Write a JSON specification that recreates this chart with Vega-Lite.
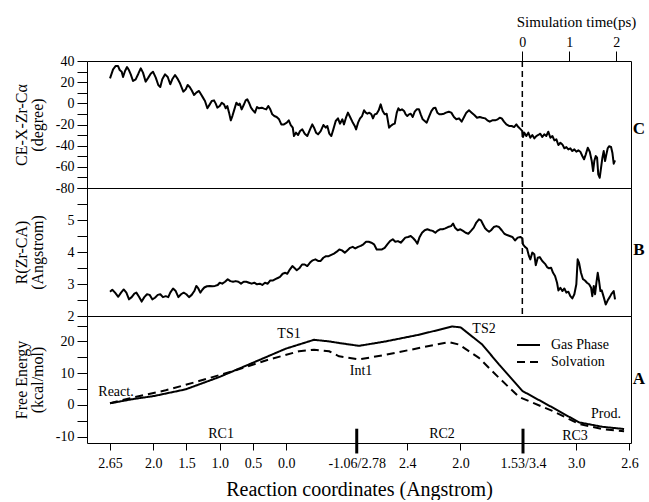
{
"$schema": "https://vega.github.io/schema/vega-lite/v6.json",
"padding": {"left": 12, "top": 13, "right": 0, "bottom": 0},
"background": "white",
"bounds": "flush",
"config": {
  "font": "Liberation Serif",
  "view": {"stroke": "black", "strokeWidth": 1},
  "style": {"guide-label": {"font": "Liberation Serif"}, "guide-title": {"font": "Liberation Serif"}},
  "axis": {"domain": false, "grid": false, "tickColor": "black", "labelColor": "black", "titleColor": "black", "labelFont": "Liberation Serif", "titleFont": "Liberation Serif", "labelFontSize": 14, "titleFontSize": 16, "titleFontWeight": "normal", "labelFlush": false, "labelOverlap": false, "labelBound": false},
  "text": {"font": "Liberation Serif", "fontSize": 14, "color": "black"},
  "legend": {"labelFont": "Liberation Serif", "labelFontSize": 14, "labelColor": "black"}
},
"datasets": {
  "c": [
{"s":0.000,"v":23.6},{"s":0.023,"v":32.1},{"s":0.043,"v":35.3},{"s":0.060,"v":35.3},{"s":0.073,"v":31.5},{"s":0.088,"v":29.9},{"s":0.098,"v":24.9},{"s":0.113,"v":30.6},{"s":0.128,"v":34.3},{"s":0.143,"v":31.2},{"s":0.156,"v":27.4},{"s":0.173,"v":21.1},{"s":0.193,"v":22.7},{"s":0.213,"v":28.0},{"s":0.231,"v":33.1},{"s":0.248,"v":29.0},{"s":0.268,"v":20.5},{"s":0.288,"v":24.3},{"s":0.306,"v":28.0},{"s":0.323,"v":29.9},{"s":0.344,"v":24.3},{"s":0.363,"v":17.3},{"s":0.378,"v":15.4},{"s":0.393,"v":22.7},{"s":0.414,"v":27.4},{"s":0.434,"v":24.9},{"s":0.453,"v":18.0},{"s":0.468,"v":22.7},{"s":0.489,"v":26.8},{"s":0.506,"v":23.6},{"s":0.524,"v":19.5},{"s":0.539,"v":14.8},{"s":0.551,"v":11.0},{"s":0.569,"v":13.2},{"s":0.584,"v":17.3},{"s":0.599,"v":15.4},{"s":0.614,"v":12.3},{"s":0.632,"v":7.9},{"s":0.649,"v":10.1},{"s":0.669,"v":11.7},{"s":0.684,"v":8.5},{"s":0.699,"v":5.4},{"s":0.714,"v":2.2},{"s":0.732,"v":-4.7},{"s":0.750,"v":-1.0},{"s":0.765,"v":2.2},{"s":0.782,"v":2.8},{"s":0.795,"v":-0.3},{"s":0.807,"v":-4.1},{"s":0.825,"v":-2.5},{"s":0.840,"v":0.6},{"s":0.857,"v":-1.0},{"s":0.870,"v":-4.7},{"s":0.882,"v":-2.5},{"s":0.895,"v":-8.8},{"s":0.908,"v":-16.1},{"s":0.920,"v":-12.0},{"s":0.935,"v":-5.7},{"s":0.950,"v":0.6},{"s":0.965,"v":-1.6},{"s":0.975,"v":-0.3},{"s":0.990,"v":-5.7},{"s":1.005,"v":-1.6},{"s":1.020,"v":2.8},{"s":1.032,"v":3.8},{"s":1.045,"v":0.6},{"s":1.060,"v":-4.1},{"s":1.075,"v":-6.6},{"s":1.090,"v":-8.8},{"s":1.105,"v":-3.5},{"s":1.120,"v":-4.7},{"s":1.141,"v":-4.1},{"s":1.158,"v":-5.0},{"s":1.175,"v":-5.7},{"s":1.190,"v":-2.5},{"s":1.205,"v":-5.7},{"s":1.220,"v":-10.4},{"s":1.235,"v":-12.0},{"s":1.253,"v":-12.9},{"s":1.271,"v":-15.1},{"s":1.288,"v":-19.9},{"s":1.308,"v":-19.9},{"s":1.329,"v":-18.3},{"s":1.344,"v":-16.1},{"s":1.359,"v":-20.5},{"s":1.374,"v":-23.0},{"s":1.383,"v":-30.9},{"s":1.398,"v":-27.7},{"s":1.414,"v":-29.9},{"s":1.429,"v":-26.2},{"s":1.446,"v":-24.6},{"s":1.464,"v":-28.7},{"s":1.483,"v":-30.9},{"s":1.504,"v":-24.6},{"s":1.521,"v":-19.9},{"s":1.534,"v":-23.0},{"s":1.549,"v":-27.7},{"s":1.564,"v":-29.3},{"s":1.584,"v":-26.2},{"s":1.604,"v":-20.5},{"s":1.622,"v":-23.0},{"s":1.634,"v":-21.4},{"s":1.649,"v":-28.7},{"s":1.664,"v":-30.9},{"s":1.679,"v":-24.6},{"s":1.697,"v":-16.7},{"s":1.714,"v":-14.2},{"s":1.729,"v":-19.2},{"s":1.747,"v":-15.1},{"s":1.759,"v":-19.9},{"s":1.774,"v":-13.6},{"s":1.789,"v":-8.8},{"s":1.805,"v":-12.9},{"s":1.822,"v":-17.3},{"s":1.840,"v":-21.4},{"s":1.850,"v":-24.6},{"s":1.865,"v":-18.3},{"s":1.880,"v":-14.2},{"s":1.895,"v":-12.0},{"s":1.910,"v":-6.6},{"s":1.923,"v":-8.8},{"s":1.935,"v":-9.8},{"s":1.950,"v":-8.8},{"s":1.965,"v":-10.4},{"s":1.977,"v":-14.2},{"s":1.990,"v":-10.4},{"s":2.005,"v":-9.8},{"s":2.020,"v":-6.6},{"s":2.035,"v":-1.0},{"s":2.050,"v":-7.3},{"s":2.065,"v":-10.4},{"s":2.080,"v":-9.8},{"s":2.098,"v":-23.0},{"s":2.110,"v":-21.4},{"s":2.126,"v":-19.9},{"s":2.141,"v":-19.2},{"s":2.156,"v":-8.8},{"s":2.168,"v":-4.7},{"s":2.180,"v":-6.6},{"s":2.195,"v":-5.7},{"s":2.211,"v":-7.3},{"s":2.223,"v":-10.4},{"s":2.235,"v":-12.0},{"s":2.248,"v":-10.4},{"s":2.261,"v":-9.8},{"s":2.276,"v":-12.9},{"s":2.291,"v":-7.9},{"s":2.306,"v":-5.7},{"s":2.323,"v":-5.7},{"s":2.336,"v":-10.4},{"s":2.351,"v":-15.1},{"s":2.366,"v":-16.7},{"s":2.381,"v":-18.3},{"s":2.398,"v":-12.9},{"s":2.416,"v":-7.3},{"s":2.431,"v":-4.7},{"s":2.446,"v":-4.1},{"s":2.461,"v":-8.8},{"s":2.476,"v":-10.4},{"s":2.491,"v":-10.4},{"s":2.511,"v":-9.8},{"s":2.526,"v":-8.8},{"s":2.547,"v":-7.9},{"s":2.566,"v":-8.8},{"s":2.586,"v":-12.9},{"s":2.604,"v":-15.1},{"s":2.624,"v":-14.2},{"s":2.644,"v":-17.3},{"s":2.662,"v":-12.9},{"s":2.679,"v":-8.8},{"s":2.699,"v":-6.6},{"s":2.719,"v":-8.8},{"s":2.739,"v":-11.0},{"s":2.759,"v":-13.6},{"s":2.780,"v":-12.9},{"s":2.799,"v":-13.6},{"s":2.820,"v":-14.2},{"s":2.837,"v":-16.1},{"s":2.855,"v":-17.3},{"s":2.874,"v":-16.1},{"s":2.895,"v":-16.1},{"s":2.915,"v":-15.1},{"s":2.930,"v":-13.6},{"s":2.945,"v":-14.2},{"s":2.962,"v":-17.3},{"s":2.980,"v":-19.9},{"s":3.000,"v":-21.4},{"s":3.020,"v":-21.4},{"s":3.038,"v":-22.4},{"s":3.055,"v":-19.9},{"s":3.070,"v":-22.4},{"s":3.088,"v":-24.6},{"s":3.100,"v":-26.2},{"s":3.105,"v":-31.8},{"s":3.115,"v":-27.7},{"s":3.130,"v":-30.9},{"s":3.145,"v":-27.7},{"s":3.160,"v":-32.5},{"s":3.175,"v":-29.9},{"s":3.190,"v":-33.1},{"s":3.205,"v":-30.9},{"s":3.220,"v":-29.9},{"s":3.235,"v":-28.7},{"s":3.250,"v":-31.8},{"s":3.265,"v":-29.3},{"s":3.280,"v":-30.9},{"s":3.295,"v":-26.8},{"s":3.311,"v":-32.5},{"s":3.326,"v":-30.9},{"s":3.341,"v":-35.0},{"s":3.356,"v":-34.0},{"s":3.371,"v":-39.4},{"s":3.386,"v":-37.2},{"s":3.401,"v":-38.8},{"s":3.416,"v":-42.5},{"s":3.431,"v":-41.3},{"s":3.446,"v":-43.5},{"s":3.461,"v":-42.5},{"s":3.476,"v":-45.1},{"s":3.491,"v":-43.5},{"s":3.506,"v":-45.7},{"s":3.521,"v":-44.4},{"s":3.536,"v":-45.7},{"s":3.551,"v":-49.8},{"s":3.564,"v":-52.9},{"s":3.577,"v":-48.2},{"s":3.592,"v":-41.9},{"s":3.607,"v":-45.7},{"s":3.622,"v":-54.5},{"s":3.632,"v":-64.0},{"s":3.641,"v":-54.5},{"s":3.652,"v":-49.8},{"s":3.662,"v":-51.4},{"s":3.671,"v":-67.1},{"s":3.682,"v":-70.3},{"s":3.692,"v":-60.8},{"s":3.702,"v":-51.4},{"s":3.712,"v":-45.1},{"s":3.722,"v":-54.5},{"s":3.732,"v":-48.2},{"s":3.742,"v":-42.5},{"s":3.752,"v":-40.6},{"s":3.767,"v":-41.3},{"s":3.777,"v":-46.6},{"s":3.787,"v":-57.0},{"s":3.797,"v":-53.9}
  ],
  "b": [
{"s":0.000,"v":2.76},{"s":0.017,"v":2.82},{"s":0.038,"v":2.73},{"s":0.062,"v":2.60},{"s":0.083,"v":2.73},{"s":0.103,"v":2.83},{"s":0.123,"v":2.73},{"s":0.143,"v":2.52},{"s":0.163,"v":2.59},{"s":0.183,"v":2.70},{"s":0.198,"v":2.73},{"s":0.218,"v":2.60},{"s":0.238,"v":2.45},{"s":0.258,"v":2.59},{"s":0.278,"v":2.68},{"s":0.298,"v":2.66},{"s":0.318,"v":2.52},{"s":0.338,"v":2.57},{"s":0.359,"v":2.66},{"s":0.378,"v":2.68},{"s":0.398,"v":2.59},{"s":0.419,"v":2.62},{"s":0.438,"v":2.59},{"s":0.453,"v":2.73},{"s":0.474,"v":2.86},{"s":0.494,"v":2.78},{"s":0.514,"v":2.59},{"s":0.534,"v":2.68},{"s":0.554,"v":2.73},{"s":0.574,"v":2.68},{"s":0.594,"v":2.59},{"s":0.614,"v":2.66},{"s":0.634,"v":2.78},{"s":0.649,"v":2.94},{"s":0.664,"v":2.86},{"s":0.679,"v":2.73},{"s":0.694,"v":2.82},{"s":0.709,"v":2.89},{"s":0.729,"v":2.93},{"s":0.750,"v":2.94},{"s":0.769,"v":2.93},{"s":0.789,"v":2.94},{"s":0.810,"v":2.97},{"s":0.825,"v":3.04},{"s":0.844,"v":3.01},{"s":0.865,"v":3.07},{"s":0.885,"v":3.15},{"s":0.905,"v":3.09},{"s":0.925,"v":3.07},{"s":0.945,"v":3.09},{"s":0.965,"v":3.07},{"s":0.985,"v":3.01},{"s":1.005,"v":3.07},{"s":1.025,"v":3.07},{"s":1.045,"v":3.04},{"s":1.065,"v":3.01},{"s":1.085,"v":3.04},{"s":1.105,"v":2.99},{"s":1.126,"v":3.01},{"s":1.145,"v":2.97},{"s":1.165,"v":3.04},{"s":1.186,"v":3.01},{"s":1.205,"v":3.11},{"s":1.226,"v":3.11},{"s":1.258,"v":3.18},{"s":1.278,"v":3.22},{"s":1.298,"v":3.32},{"s":1.318,"v":3.35},{"s":1.333,"v":3.32},{"s":1.353,"v":3.46},{"s":1.371,"v":3.56},{"s":1.389,"v":3.49},{"s":1.404,"v":3.43},{"s":1.423,"v":3.49},{"s":1.444,"v":3.61},{"s":1.464,"v":3.61},{"s":1.483,"v":3.56},{"s":1.504,"v":3.67},{"s":1.524,"v":3.74},{"s":1.544,"v":3.77},{"s":1.564,"v":3.72},{"s":1.584,"v":3.72},{"s":1.604,"v":3.82},{"s":1.624,"v":3.87},{"s":1.644,"v":3.87},{"s":1.664,"v":3.91},{"s":1.684,"v":3.95},{"s":1.705,"v":4.01},{"s":1.724,"v":4.08},{"s":1.744,"v":4.05},{"s":1.765,"v":3.98},{"s":1.784,"v":4.05},{"s":1.805,"v":4.13},{"s":1.825,"v":4.16},{"s":1.844,"v":4.11},{"s":1.865,"v":4.16},{"s":1.885,"v":4.19},{"s":1.905,"v":4.24},{"s":1.925,"v":4.32},{"s":1.945,"v":4.32},{"s":1.965,"v":4.29},{"s":1.985,"v":4.24},{"s":2.005,"v":4.08},{"s":2.025,"v":4.08},{"s":2.045,"v":4.08},{"s":2.065,"v":4.13},{"s":2.085,"v":4.24},{"s":2.105,"v":4.34},{"s":2.126,"v":4.40},{"s":2.145,"v":4.32},{"s":2.165,"v":4.34},{"s":2.186,"v":4.29},{"s":2.201,"v":4.36},{"s":2.220,"v":4.45},{"s":2.241,"v":4.47},{"s":2.261,"v":4.50},{"s":2.280,"v":4.43},{"s":2.295,"v":4.36},{"s":2.311,"v":4.26},{"s":2.326,"v":4.45},{"s":2.346,"v":4.60},{"s":2.366,"v":4.68},{"s":2.386,"v":4.71},{"s":2.406,"v":4.68},{"s":2.426,"v":4.66},{"s":2.446,"v":4.60},{"s":2.461,"v":4.66},{"s":2.481,"v":4.71},{"s":2.501,"v":4.71},{"s":2.521,"v":4.74},{"s":2.541,"v":4.78},{"s":2.564,"v":4.81},{"s":2.579,"v":4.89},{"s":2.594,"v":4.76},{"s":2.614,"v":4.68},{"s":2.634,"v":4.71},{"s":2.654,"v":4.66},{"s":2.674,"v":4.60},{"s":2.694,"v":4.57},{"s":2.714,"v":4.66},{"s":2.735,"v":4.76},{"s":2.754,"v":4.92},{"s":2.774,"v":5.02},{"s":2.789,"v":4.99},{"s":2.805,"v":4.86},{"s":2.820,"v":4.74},{"s":2.835,"v":4.68},{"s":2.850,"v":4.63},{"s":2.865,"v":4.68},{"s":2.885,"v":4.78},{"s":2.905,"v":4.81},{"s":2.925,"v":4.78},{"s":2.945,"v":4.68},{"s":2.965,"v":4.57},{"s":2.985,"v":4.53},{"s":3.005,"v":4.50},{"s":3.025,"v":4.47},{"s":3.045,"v":4.36},{"s":3.065,"v":4.45},{"s":3.085,"v":4.47},{"s":3.100,"v":4.43},{"s":3.105,"v":4.24},{"s":3.120,"v":4.16},{"s":3.135,"v":4.11},{"s":3.150,"v":3.87},{"s":3.160,"v":3.77},{"s":3.175,"v":3.98},{"s":3.190,"v":3.93},{"s":3.201,"v":3.59},{"s":3.216,"v":3.82},{"s":3.231,"v":3.84},{"s":3.250,"v":3.72},{"s":3.271,"v":3.63},{"s":3.286,"v":3.53},{"s":3.301,"v":3.49},{"s":3.316,"v":3.51},{"s":3.331,"v":3.35},{"s":3.346,"v":3.25},{"s":3.361,"v":3.04},{"s":3.371,"v":2.80},{"s":3.386,"v":2.88},{"s":3.401,"v":2.78},{"s":3.416,"v":2.86},{"s":3.431,"v":2.73},{"s":3.446,"v":2.76},{"s":3.461,"v":2.62},{"s":3.476,"v":2.55},{"s":3.491,"v":2.68},{"s":3.506,"v":2.99},{"s":3.516,"v":3.77},{"s":3.526,"v":3.67},{"s":3.541,"v":3.35},{"s":3.556,"v":3.15},{"s":3.571,"v":3.11},{"s":3.586,"v":3.04},{"s":3.602,"v":2.99},{"s":3.617,"v":2.88},{"s":3.626,"v":2.62},{"s":3.637,"v":2.94},{"s":3.647,"v":2.68},{"s":3.657,"v":3.04},{"s":3.667,"v":3.35},{"s":3.677,"v":3.09},{"s":3.687,"v":2.78},{"s":3.697,"v":2.80},{"s":3.712,"v":2.59},{"s":3.727,"v":2.36},{"s":3.742,"v":2.49},{"s":3.757,"v":2.59},{"s":3.772,"v":2.70},{"s":3.787,"v":2.78},{"s":3.797,"v":2.52}
  ],
  "a": [
{"s":0.000,"v":0.5,"phase":"Gas Phase"},{"s":0.168,"v":1.8,"phase":"Gas Phase"},{"s":0.331,"v":2.8,"phase":"Gas Phase"},{"s":0.569,"v":4.9,"phase":"Gas Phase"},{"s":0.820,"v":8.75,"phase":"Gas Phase"},{"s":1.070,"v":13.2,"phase":"Gas Phase"},{"s":1.321,"v":17.7,"phase":"Gas Phase"},{"s":1.534,"v":20.5,"phase":"Gas Phase"},{"s":1.647,"v":20.0,"phase":"Gas Phase"},{"s":1.722,"v":19.5,"phase":"Gas Phase"},{"s":1.872,"v":18.6,"phase":"Gas Phase"},{"s":2.073,"v":20.0,"phase":"Gas Phase"},{"s":2.323,"v":22.1,"phase":"Gas Phase"},{"s":2.574,"v":24.7,"phase":"Gas Phase"},{"s":2.637,"v":24.4,"phase":"Gas Phase"},{"s":2.799,"v":19.0,"phase":"Gas Phase"},{"s":2.925,"v":12.7,"phase":"Gas Phase"},{"s":3.100,"v":4.4,"phase":"Gas Phase"},{"s":3.326,"v":-0.8,"phase":"Gas Phase"},{"s":3.526,"v":-5.5,"phase":"Gas Phase"},{"s":3.702,"v":-6.9,"phase":"Gas Phase"},{"s":3.865,"v":-7.6,"phase":"Gas Phase"},
{"s":0.000,"v":0.5,"phase":"Solvation"},{"s":0.168,"v":2.3,"phase":"Solvation"},{"s":0.419,"v":4.6,"phase":"Solvation"},{"s":0.669,"v":7.5,"phase":"Solvation"},{"s":0.920,"v":10.6,"phase":"Solvation"},{"s":1.171,"v":14.0,"phase":"Solvation"},{"s":1.421,"v":16.9,"phase":"Solvation"},{"s":1.534,"v":17.4,"phase":"Solvation"},{"s":1.647,"v":16.9,"phase":"Solvation"},{"s":1.722,"v":15.3,"phase":"Solvation"},{"s":1.872,"v":14.3,"phase":"Solvation"},{"s":2.073,"v":15.8,"phase":"Solvation"},{"s":2.323,"v":17.9,"phase":"Solvation"},{"s":2.549,"v":19.8,"phase":"Solvation"},{"s":2.624,"v":19.0,"phase":"Solvation"},{"s":2.774,"v":14.8,"phase":"Solvation"},{"s":2.925,"v":8.5,"phase":"Solvation"},{"s":3.075,"v":2.5,"phase":"Solvation"},{"s":3.326,"v":-1.9,"phase":"Solvation"},{"s":3.526,"v":-6.0,"phase":"Solvation"},{"s":3.702,"v":-7.6,"phase":"Solvation"},{"s":3.865,"v":-8.3,"phase":"Solvation"}
  ],
  "alabels": [
{"s":1.346,"v":22.3,"label":"TS1"},{"s":0.045,"v":4.1,"label":"React."},{"s":0.835,"v":-9.2,"label":"RC1"},{"s":1.887,"v":10.7,"label":"Int1"},{"s":2.812,"v":23.9,"label":"TS2"},{"s":2.496,"v":-9.2,"label":"RC2"},{"s":3.496,"v":-9.8,"label":"RC3"},{"s":3.729,"v":-2.9,"label":"Prod."}
  ],
  "thick": [{"s":1.855,"v1":-7.5,"v2":-15.3},{"s":3.105,"v1":-7.5,"v2":-15.3}]
},
"spacing": 0,
"vconcat": [
  {
    "width": 544, "height": 127,
    "layer": [
      {"data": {"name": "c"}, "mark": {"type": "line", "color": "black", "strokeWidth": 2, "strokeJoin": "round"},
       "encoding": {
         "x": {"field": "s", "type": "quantitative", "scale": {"domain": [-0.173, 3.917], "nice": false, "zero": false}, "axis": null},
         "y": {"field": "v", "type": "quantitative", "scale": {"domain": [-80, 40], "nice": false, "zero": false},
               "axis": {"values": [-80,-70,-60,-50,-40,-30,-20,-10,0,10,20,30,40], "labelExpr": "datum.value % 20 == 0 ? '' + datum.value : ''", "labelFont": "Liberation Serif", "titleFont": "Liberation Serif", "tickSize": 10, "labelPadding": 3, "title": ["CE-X-Zr-Cα", "(degree)"], "titleX": -66, "titleBaseline": "middle", "titleLineHeight": 16}}
       }},
      {"data": {"values": [{"t": 0}]}, "mark": {"type": "rule", "color": "black", "strokeWidth": 1.5, "strokeDash": [6, 4]},
       "encoding": {
         "x": {"field": "t", "type": "quantitative", "scale": {"domain": [-9.261, 2.312], "nice": false, "zero": false},
               "axis": {"orient": "top", "values": [0, 1, 2], "labelExpr": "'' + datum.value", "labelFont": "Liberation Serif", "titleFont": "Liberation Serif", "tickSize": 10, "labelPadding": 2, "title": "Simulation time(ps)", "titleX": 489, "titleY": -35, "titleAlign": "center", "titleBaseline": "alphabetic", "titleFontSize": 15}}
       }},
      {"data": {"values": [{"s": 3.977, "v": -24.3, "label": "C"}]}, "mark": {"type": "text", "fontWeight": "bold", "fontSize": 17},
       "encoding": {
         "x": {"field": "s", "type": "quantitative", "scale": {"domain": [-0.173, 3.917], "nice": false, "zero": false}, "axis": null},
         "y": {"field": "v", "type": "quantitative", "scale": {"domain": [-80, 40], "nice": false, "zero": false}, "axis": null},
         "text": {"field": "label"}
       }}
    ],
    "resolve": {"scale": {"x": "independent", "y": "independent"}}
  },
  {
    "width": 544, "height": 128,
    "layer": [
      {"data": {"name": "b"}, "mark": {"type": "line", "color": "black", "strokeWidth": 2, "strokeJoin": "round"},
       "encoding": {
         "x": {"field": "s", "type": "quantitative", "scale": {"domain": [-0.173, 3.917], "nice": false, "zero": false}, "axis": null},
         "y": {"field": "v", "type": "quantitative", "scale": {"domain": [2, 6], "nice": false, "zero": false},
               "axis": {"values": [2,2.5,3,3.5,4,4.5,5,5.5,6], "labelExpr": "datum.value % 1 == 0 && datum.value < 6 ? '' + datum.value : ''", "labelFont": "Liberation Serif", "titleFont": "Liberation Serif", "tickSize": 10, "labelPadding": 3, "title": ["R(Zr-CA)", "(Angstrom)"], "titleX": -66, "titleBaseline": "middle", "titleLineHeight": 16}}
       }},
      {"data": {"values": [{"s": 3.100}]}, "mark": {"type": "rule", "color": "black", "strokeWidth": 1.5, "strokeDash": [6, 4]},
       "encoding": {
         "x": {"field": "s", "type": "quantitative", "scale": {"domain": [-0.173, 3.917], "nice": false, "zero": false}, "axis": null}
       }},
      {"data": {"values": [{"s": 3.977, "v": 4.06, "label": "B"}]}, "mark": {"type": "text", "fontWeight": "bold", "fontSize": 17},
       "encoding": {
         "x": {"field": "s", "type": "quantitative", "scale": {"domain": [-0.173, 3.917], "nice": false, "zero": false}, "axis": null},
         "y": {"field": "v", "type": "quantitative", "scale": {"domain": [2, 6], "nice": false, "zero": false}, "axis": null},
         "text": {"field": "label"}
       }}
    ],
    "resolve": {"scale": {"x": "independent", "y": "independent"}}
  },
  {
    "width": 544, "height": 127,
    "layer": [
      {"data": {"name": "a"}, "mark": {"type": "line", "color": "black", "strokeWidth": 2, "strokeJoin": "round"},
       "encoding": {
         "x": {"field": "s", "type": "quantitative", "scale": {"domain": [-0.173, 3.917], "nice": false, "zero": false},
               "axis": {"orient": "bottom", "values": [0, 0.325, 0.575, 0.825, 1.075, 1.325, 1.855, 2.235, 2.635, 3.105, 3.505, 3.905],
                        "labelExpr": "datum.value < 0.1 ? '2.65' : datum.value < 0.4 ? '2.0' : datum.value < 0.7 ? '1.5' : datum.value < 0.9 ? '1.0' : datum.value < 1.2 ? '0.5' : datum.value < 1.5 ? '0.0' : datum.value < 2 ? '-1.06/2.78' : datum.value < 2.4 ? '2.4' : datum.value < 2.8 ? '2.0' : datum.value < 3.3 ? '1.53/3.4' : datum.value < 3.7 ? '3.0' : '2.6'",
                        "labelFont": "Liberation Serif", "titleFont": "Liberation Serif", "tickSize": 7, "labelPadding": 6, "title": "Reaction coordinates (Angstrom)", "titleFontSize": 20, "titlePadding": 9}},
         "y": {"field": "v", "type": "quantitative", "scale": {"domain": [-12, 28], "nice": false, "zero": false},
               "axis": {"values": [-10,-5,0,5,10,15,20,25], "labelExpr": "datum.value % 10 == 0 ? '' + datum.value : ''", "labelFont": "Liberation Serif", "titleFont": "Liberation Serif", "tickSize": 10, "labelPadding": 3, "title": ["Free Energy", "(kcal/mol)"], "titleX": -66, "titleBaseline": "middle", "titleLineHeight": 16}},
         "strokeDash": {"field": "phase", "type": "nominal", "scale": {"domain": ["Gas Phase", "Solvation"], "range": [[1, 0], [8, 5]]},
                        "legend": {"orient": "none", "legendX": 429, "legendY": 277, "title": null, "padding": 0, "symbolType": "stroke", "symbolSize": 529, "symbolStrokeWidth": 2, "symbolStrokeColor": "black", "labelOffset": 10, "clipHeight": 14, "rowPadding": 3, "labelFont": "Liberation Serif"}}
       }},
      {"data": {"name": "alabels"}, "mark": {"type": "text", "fontSize": 14},
       "encoding": {
         "x": {"field": "s", "type": "quantitative", "scale": {"domain": [-0.173, 3.917], "nice": false, "zero": false}, "axis": null},
         "y": {"field": "v", "type": "quantitative", "scale": {"domain": [-12, 28], "nice": false, "zero": false}, "axis": null},
         "text": {"field": "label"}
       }},
      {"data": {"name": "thick"}, "mark": {"type": "rule", "color": "black", "strokeWidth": 3},
       "encoding": {
         "x": {"field": "s", "type": "quantitative", "scale": {"domain": [-0.173, 3.917], "nice": false, "zero": false}, "axis": null},
         "y": {"field": "v1", "type": "quantitative", "scale": {"domain": [-12, 28], "nice": false, "zero": false}, "axis": null},
         "y2": {"field": "v2"}
       }},
      {"data": {"values": [{"s": 3.977, "v": 8.2, "label": "A"}]}, "mark": {"type": "text", "fontWeight": "bold", "fontSize": 17},
       "encoding": {
         "x": {"field": "s", "type": "quantitative", "scale": {"domain": [-0.173, 3.917], "nice": false, "zero": false}, "axis": null},
         "y": {"field": "v", "type": "quantitative", "scale": {"domain": [-12, 28], "nice": false, "zero": false}, "axis": null},
         "text": {"field": "label"}
       }}
    ],
    "resolve": {"scale": {"x": "independent", "y": "independent"}}
  }
]
}
